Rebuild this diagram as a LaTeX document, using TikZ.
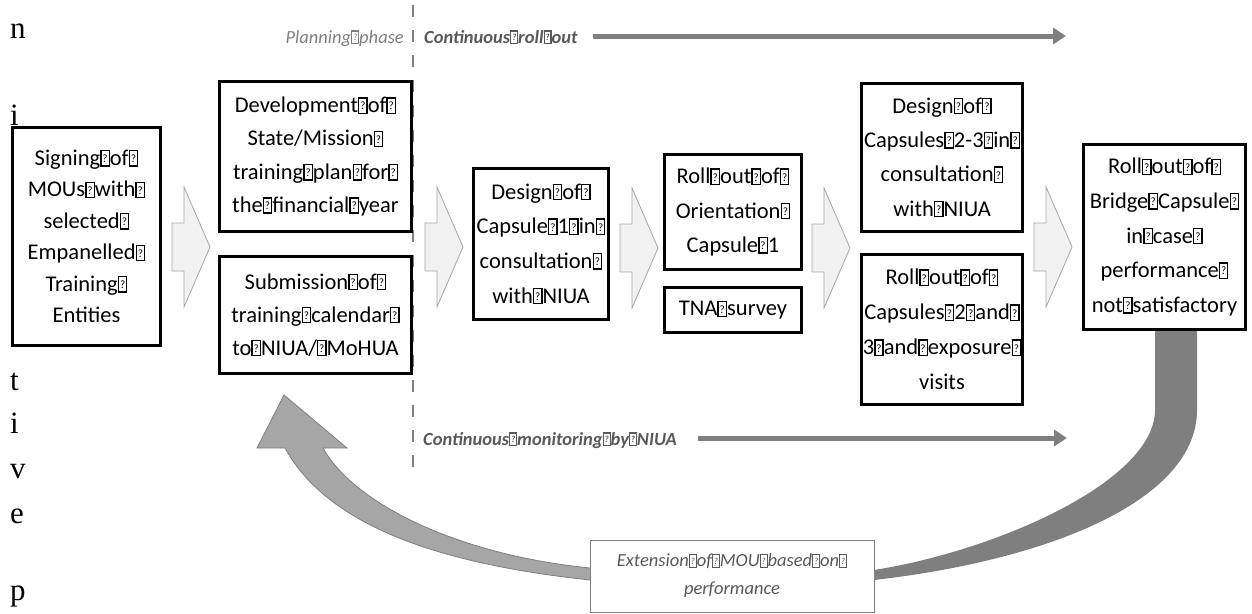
\documentclass[tikz,border=0pt]{standalone}
\usepackage{fontspec}
\usepackage{graphicx}
\setmainfont{Carlito}
\newfontfamily\serifletters{Liberation Serif}
\usetikzlibrary{arrows.meta}
\definecolor{dkgray}{HTML}{595959}
\definecolor{mdgray}{HTML}{7F7F7F}
\definecolor{ltgray}{HTML}{A6A6A6}
\definecolor{chevfill}{HTML}{F2F2F2}
\definecolor{chevline}{HTML}{A6A6A6}
\newcommand{\qb}{{\setlength{\fboxsep}{0pt}\setlength{\fboxrule}{0.06em}\fbox{\makebox[0.31em]{\rule{0pt}{0.62em}\raisebox{0.12em}{\scalebox{0.5}{?}}}}}}
\begin{document}
\begin{tikzpicture}[x=1pt,y=-1pt,
  stepbox/.style={draw=black, line width=2.6pt, fill=white, inner sep=0pt, align=center},
  lbl/.style={inner sep=0pt, font=\fontsize{18.5}{22}\selectfont},
  letter/.style={inner sep=0pt, anchor=base west, font=\serifletters\fontsize{31}{31}\selectfont},
  grayarr/.style={draw=mdgray, line width=5pt, -{Triangle[length=13pt,width=16pt]}},
  dashline/.style={draw=mdgray, line width=2pt, dash pattern=on 12pt off 13pt},
  chevstyle/.style={fill=chevfill, draw=chevline, line width=0.8pt},
  pics/chev/.style={code={\filldraw[chevstyle] (0,-24) -- (12,-24) -- (12,-60) -- (38,0) -- (12,60) -- (12,24) -- (0,24) -- cycle;}}
]
\useasboundingbox (0,0) rectangle (1252,613);

% stray letters on the left
\node[letter] (l1) at (10,38) {n};
\node[letter] (l2) at (10,125) {i};
\node[letter] (l3) at (10,390) {t};
\node[letter] (l4) at (10,433) {i};
\node[letter] (l5) at (10,478) {v};
\node[letter] (l6) at (10,523) {e};
\node[letter] (l7) at (10,600) {p};

% phase divider
\coordinate (dtop) at (413,5);
\coordinate (dbot) at (413,470);
\draw[dashline] (dtop) -- (dbot);

% top labels and arrow
\node[lbl, anchor=base east, text=mdgray, font=\fontsize{18.5}{22}\selectfont\itshape] (plan) at (404,43) {Planning\qb phase};
\node[lbl, anchor=base west, text=dkgray, font=\fontsize{18.5}{22}\selectfont\bfseries\itshape] (roll) at (424,43) {Continuous\qb roll\qb out};
\coordinate (rollA) at (593,36);
\coordinate (rollB) at (1066,36);
\draw[grayarr] (rollA) -- (rollB);

% monitoring label and arrow
\node[lbl, anchor=base west, text=dkgray, font=\fontsize{18.5}{22}\selectfont\bfseries\itshape] (mon) at (423,445) {Continuous\qb monitoring\qb by\qb NIUA};
\coordinate (monA) at (698,438);
\coordinate (monB) at (1067,438);
\draw[grayarr] (monA) -- (monB);

% feedback loop arrows
\fill[mdgray] (1155,325) -- (1197,325) -- (1197,410) .. controls (1197,500) and (1050,560) .. (874,580) -- (874,570) .. controls (1000,550) and (1155,480) .. (1155,410) -- cycle;
\filldraw[fill=ltgray, draw=mdgray, line width=0.8pt] (600,580) -- (590,580) .. controls (450,565) and (330,530) .. (285,448) -- (257,448) -- (284,395) -- (347,448) -- (323,448) .. controls (355,505) and (460,555) .. (590,568) -- (600,568);

% chevrons
\pic at (172,247) {chev};
\pic at (425,247) {chev};
\pic at (620,248) {chev};
\pic at (812,248) {chev};
\pic at (1034,247) {chev};

% boxes
\node[stepbox, minimum width=148pt, minimum height=218pt, font=\fontsize{22.5}{31.5}\selectfont] (b1) at (86.5,236.5)
  {Signing\qb of\qb\\MOUs\qb with\qb\\selected\qb\\Empanelled\qb\\Training\qb\\Entities};
\node[stepbox, minimum width=192pt, minimum height=150pt, font=\fontsize{22.5}{33.3}\selectfont] (b2) at (315.5,156.5)
  {Development\qb of\qb\\State/Mission\qb\\training\qb plan\qb for\qb\\the\qb financial\qb year};
\node[stepbox, minimum width=192pt, minimum height=117pt, font=\fontsize{22.5}{33}\selectfont] (b3) at (315.5,315)
  {Submission\qb of\qb\\training\qb calendar\qb\\to\qb NIUA/\qb MoHUA};
\node[stepbox, minimum width=135pt, minimum height=151pt, font=\fontsize{22.5}{34.7}\selectfont] (b4) at (541,244)
  {Design\qb of\qb\\Capsule\qb 1\qb in\qb\\consultation\qb\\with\qb NIUA};
\node[stepbox, minimum width=137pt, minimum height=115pt, font=\fontsize{22.5}{34.3}\selectfont] (b5) at (733,212)
  {Roll\qb out\qb of\qb\\Orientation\qb\\Capsule\qb 1};
\node[stepbox, minimum width=137pt, minimum height=45pt, font=\fontsize{22.5}{30}\selectfont] (b6) at (733,310)
  {TNA\qb survey};
\node[stepbox, minimum width=161pt, minimum height=148pt, font=\fontsize{22.5}{34.3}\selectfont] (b7) at (942,157.5)
  {Design\qb of\qb\\Capsules\qb 2-3\qb in\qb\\consultation\qb\\with\qb NIUA};
\node[stepbox, minimum width=161pt, minimum height=150pt, font=\fontsize{22.5}{35}\selectfont] (b8) at (942,329.5)
  {Roll\qb out\qb of\qb\\Capsules\qb 2\qb and\qb\\3\qb and\qb exposure\qb\\visits};
\node[stepbox, minimum width=162pt, minimum height=185pt, font=\fontsize{22.5}{34.6}\selectfont] (b9) at (1164.5,237)
  {Roll\qb out\qb of\qb\\Bridge\qb Capsule\qb\\in\qb case\qb\\performance\qb\\not\qb satisfactory};

% extension box
\node[draw=mdgray, line width=0.8pt, fill=white, inner sep=0pt, minimum width=284pt, minimum height=72pt, align=center,
  text=dkgray, font=\fontsize{18.5}{28}\selectfont\itshape] (ext) at (732,576)
  {Extension\qb of\qb MOU\qb based\qb on\qb\\performance};
\end{tikzpicture}
\end{document}
